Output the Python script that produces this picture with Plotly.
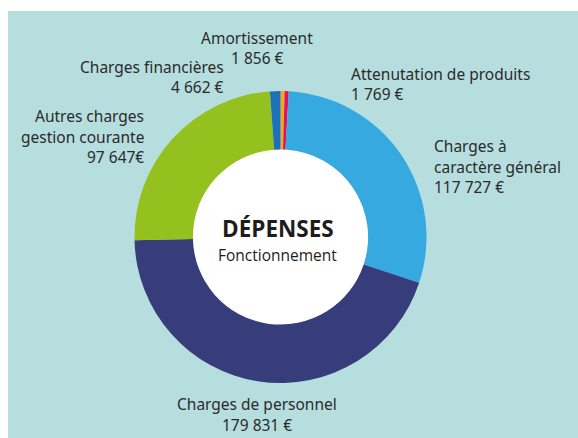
import plotly.graph_objects as go

# Dépenses de fonctionnement (en €)
categories = ["Amortissement", "Attenutation de produits", "Charges à caractère général",
              "Charges de personnel", "Autres charges gestion courante", "Charges financières"]
values = [1856, 1769, 117727, 179831, 97647, 4662]
value_labels = ["1 856 €", "1 769 €", "117 727 €", "179 831 €", "97 647€", "4 662 €"]
label_lines = [["Amortissement"], ["Attenutation de produits"], ["Charges à", "caractère général"],
               ["Charges de personnel"], ["Autres charges", "gestion courante"], ["Charges financières"]]
colors = ["#f6a71c", "#e1125c", "#36a9e1", "#373d7a", "#95c11f", "#1d71b8"]

W, H = 578, 438
BG = "#b6dedf"
TXT = "#2b2b2b"

def px(x, y):
  # pixel position -> paper coordinates
  return x / W, 1 - y / H

# label anchor (pixel x, top line y) and alignment for each slice
label_pos = [(257, 38, "center"), (349, 74, "left"), (432, 146, "left"),
             (257, 404, "center"), (146, 116, "right"), (226, 67, "right")]

fig = go.Figure(go.Pie(
  labels=categories,
  values=values,
  marker=dict(colors=colors, line=dict(width=0)),
  hole=0.6,
  sort=False,
  direction="clockwise",
  rotation=0,
  textinfo="none",
  hoverinfo="label+value",
  showlegend=False,
  domain=dict(x=[134.5 / W, 426.5 / W], y=[1 - 383 / H, 1 - 91 / H]),
))

annotations = []
for lines, val, (x, y, align) in zip(label_lines, value_labels, label_pos):
  for i, t in enumerate(lines + [val]):
    ax, ay = px(x, y + i * 20.5)
    annotations.append(dict(
      x=ax, y=ay, xref="paper", yref="paper", text=t, showarrow=False,
      xanchor=align, yanchor="middle",
      font=dict(family="Noto Sans", size=15.5, color=TXT),
    ))

cx, cy = px(277.5, 228)
annotations.append(dict(x=cx, y=cy, xref="paper", yref="paper", text="<b>DÉPENSES</b>",
                        showarrow=False, yanchor="middle",
                        font=dict(family="Open Sans", size=22.5, color="#1d1d1b")))
cx, cy = px(277.5, 255)
annotations.append(dict(x=cx, y=cy, xref="paper", yref="paper", text="Fonctionnement",
                        showarrow=False, yanchor="middle",
                        font=dict(family="Open Sans", size=15.5, color="#1d1d1b")))

fig.update_layout(
  width=W, height=H,
  margin=dict(l=0, r=0, t=0, b=0),
  paper_bgcolor="white",
  plot_bgcolor="white",
  shapes=[
    dict(type="rect", xref="paper", yref="paper", x0=8 / W, x1=1, y0=0, y1=1 - 11 / H,
         fillcolor=BG, line=dict(width=0), layer="below"),
    dict(type="circle", xref="paper", yref="paper",
         x0=(280.5 - 88) / W, x1=(280.5 + 88) / W, y0=1 - (237 + 88) / H, y1=1 - (237 - 88) / H,
         fillcolor="white", line=dict(width=0), layer="below"),
  ],
  annotations=annotations,
)

fig.write_html("out.html", config={"displayModeBar": False},
               post_script="document.body.style.margin='0';")
